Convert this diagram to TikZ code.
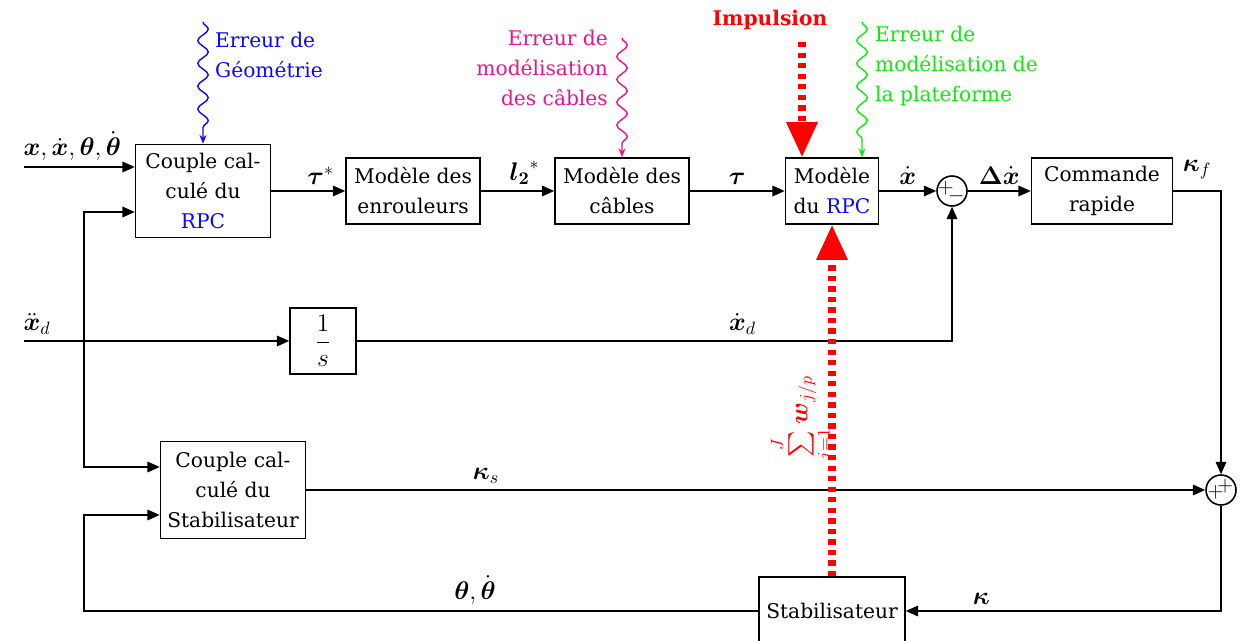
\RequirePackage{fix-cm}
\documentclass[tikz,border=0pt]{standalone}
\usepackage{amsmath}
\usepackage{fontspec}
\setmainfont{DejaVu Serif}
\usetikzlibrary{arrows.meta,decorations.pathmorphing,positioning}

\definecolor{errgeo}{RGB}{10,10,245}
\definecolor{errcable}{RGB}{231,22,139}
\definecolor{errplat}{RGB}{20,230,20}
\definecolor{rouge}{RGB}{255,0,0}

\tikzset{
  bloc/.style={draw, line width=0.9pt, align=center, inner sep=2pt},
  fleche/.style={line width=0.9pt, -{Triangle[length=7pt,width=6pt]}},
  somme/.style={draw, circle, line width=0.9pt, minimum size=0.6cm, inner sep=0pt},
  signe/.style={inner sep=0pt, font=\fontsize{12pt}{12pt}\selectfont},
  lbl/.style={font=\fontsize{14.5pt}{17pt}\selectfont},
  ondule/.style={line width=0.8pt, decorate,
    decoration={snake, amplitude=3pt, segment length=13pt, post length=7pt},
    -{Stealth[length=5pt,width=4pt]}},
  impulse/.style={rouge, line width=4pt, dash pattern=on 3pt off 3pt,
    -{Triangle[length=20pt,width=17pt]}},
}

\begin{document}
\begin{tikzpicture}[x=0.02cm, y=-0.02cm, font=\fontsize{11.5pt}{17pt}\selectfont]
  \useasboundingbox (0,0) rectangle (1240,641);

  % chaine directe
  \node[bloc, minimum width=2.7cm, minimum height=1.86cm] (ccrpc) at (203,191) {Couple cal-\\culé du\\\textcolor{errgeo}{RPC}};
  \node[bloc, minimum width=2.68cm, minimum height=1.32cm] (enroul) at (413,191) {Modèle des\\enrouleurs};
  \node[bloc, minimum width=2.68cm, minimum height=1.32cm] (cables) at (622,191) {Modèle des\\câbles};
  \node[bloc, minimum width=1.86cm, minimum height=1.32cm] (rpc) at (832,191) {Modèle\\du \textcolor{errgeo}{RPC}};
  \node[somme] (som1) at (952,191) {};
  \node[bloc, minimum width=2.82cm, minimum height=1.32cm] (cmd) at (1102,191) {Commande\\rapide};

  \node[bloc, lbl, minimum width=1.32cm, minimum height=1.32cm] (integ) at (323,341) {$\dfrac{1}{s}$};

  \node[bloc, minimum width=2.9cm, minimum height=1.94cm] (ccstab) at (233,490) {Couple cal-\\culé du\\Stabilisateur};
  \node[somme] (som2) at (1221,490) {};
  \node[bloc, minimum width=2.92cm, minimum height=1.36cm] (stab) at (832,611) {Stabilisateur};

  % signes des sommateurs
  \node[signe] at ([xshift=-3.6pt, yshift=1.3pt]som1) {$+$};
  \node[signe] at ([xshift=2.4pt, yshift=-3pt]som1) {$-$};
  \node[signe] at ([xshift=-3pt, yshift=-1.4pt]som2) {$+$};
  \node[signe] at ([xshift=2.3pt, yshift=2.3pt]som2) {$+$};

  \coordinate (in1) at (24,167);
  \coordinate (in2) at (24,341);
  \coordinate (bif) at (84,341);
  \coordinate (retour) at (84,515);

  \draw[fleche] (in1) node[lbl, above right, xshift=-4pt] {$\boldsymbol{x},\dot{\boldsymbol{x}},\boldsymbol{\theta},\dot{\boldsymbol{\theta}}$} -- (ccrpc.west|-in1);
  \draw[fleche] (ccrpc) -- node[lbl, above, xshift=7pt] {$\boldsymbol{\tau}^*$} (enroul);
  \draw[fleche] (enroul) -- node[lbl, above, xshift=4pt] {$\boldsymbol{l_2}^*$} (cables);
  \draw[fleche] (cables) -- node[lbl, above] {$\boldsymbol{\tau}$} (rpc);
  \draw[fleche] (rpc) -- node[lbl, above] {$\dot{\boldsymbol{x}}$} (som1);
  \draw[fleche] (som1) -- node[lbl, above] {$\boldsymbol{\Delta}\dot{\boldsymbol{x}}$} (cmd);
  \draw[fleche] (cmd.east) -| node[lbl, pos=0.25, above, yshift=3pt] {$\boldsymbol{\kappa}_f$} (som2.north);

  \draw[fleche] (in2) node[lbl, above right, xshift=-4pt] {$\ddot{\boldsymbol{x}}_d$} -- (integ);
  \draw[fleche] (integ) -| node[lbl, pos=0.324, above] {$\dot{\boldsymbol{x}}_d$} (som1.south);
  \draw[fleche] (bif) |- ([yshift=-0.42cm]ccrpc.west);
  \draw[fleche] (bif) |- ([yshift=0.46cm]ccstab.west);

  \draw[fleche] (ccstab) -- node[lbl, above, pos=0.2] {$\boldsymbol{\kappa}_s$} (som2);
  \draw[fleche] (som2.south) |- node[lbl, above, pos=0.88] {$\boldsymbol{\kappa}$} (stab.east);
  \draw[fleche] (stab.west) -| node[lbl, above, pos=0.21] {$\boldsymbol{\theta},\dot{\boldsymbol{\theta}}$} (retour) -- (ccstab.west|-retour);

  % perturbations
  \coordinate (pgeo) at (203,22);
  \coordinate (pcable) at (622,38);
  \coordinate (pplat) at (862,22);
  \coordinate (pimp) at (802,42);

  \draw[ondule, errgeo] (pgeo) -- (ccrpc.north);
  \node[errgeo, anchor=west, align=left] (tgeo) at (209,55) {Erreur de\\Géométrie};
  \draw[ondule, errcable] (pcable) -- (cables.north);
  \node[errcable, anchor=east, align=right] (tcable) at (614,68) {Erreur de\\modélisation\\des câbles};
  \draw[ondule, errplat] (pplat) -- (rpc.north-|pplat);
  \node[errplat, anchor=west, align=left] (tplat) at (869,66) {Erreur de\\modélisation de\\la plateforme};

  \node[rouge, font=\fontsize{11.5pt}{17pt}\selectfont\bfseries] (impuls) at (770,20) {Impulsion};
  \draw[impulse] (pimp) -- (rpc.north-|pimp);
  \draw[impulse] (stab.north) -- (rpc.south);
  \node[rouge, lbl, rotate=90] (wjp) at (802,418) {$\sum\limits_{j=1}^{J}\boldsymbol{w}_{j/p}$};
\end{tikzpicture}
\end{document}
